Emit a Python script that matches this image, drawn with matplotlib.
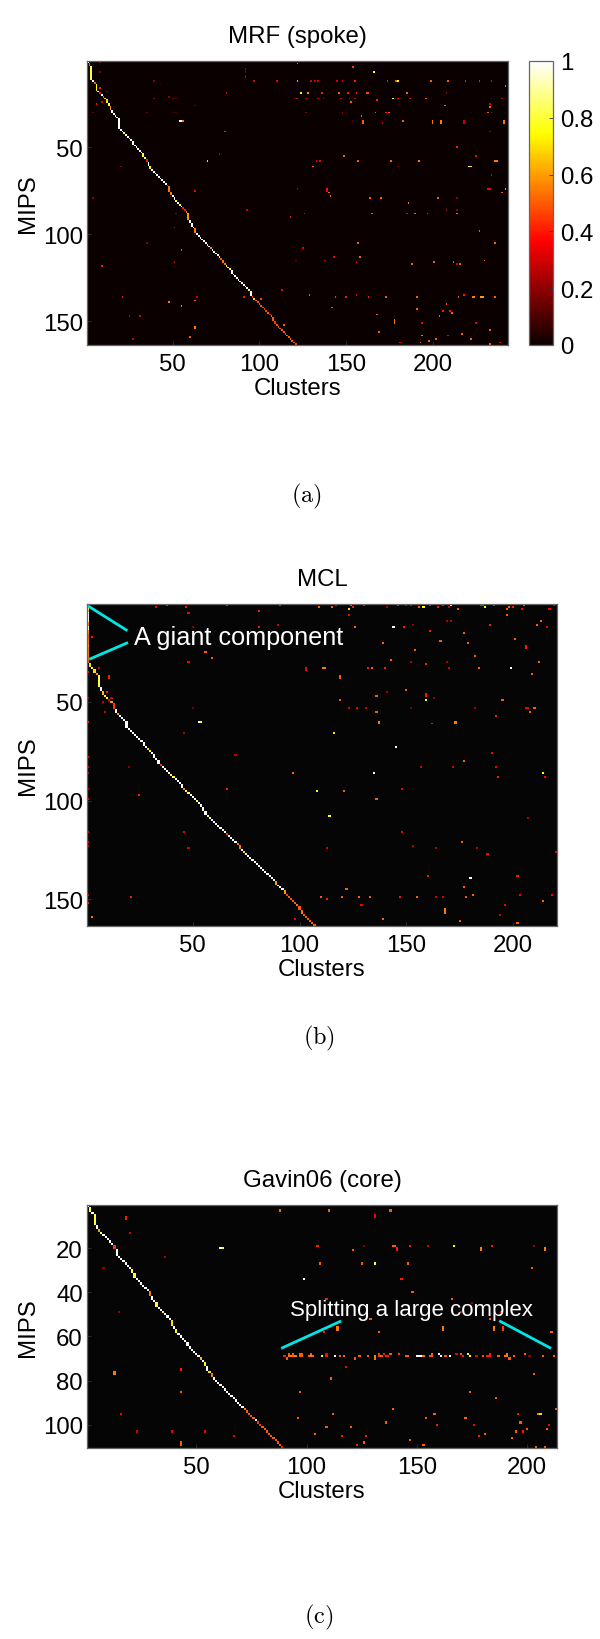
import numpy as np
import matplotlib
matplotlib.use("Agg")
import matplotlib.pyplot as plt

plt.rcParams['font.family'] = ['Liberation Sans', 'DejaVu Sans']
plt.rcParams['mathtext.fontset'] = 'cm'

# ---------- sizes of the matrices ----------
mrf_shape = (163, 243)
mcl_shape = (163, 220)
gavin_shape = (110, 213)

# ---------- diagonal: last MIPS row reached by each cluster, and its value ----------
mrf_end = [1,3,11,12,13,17,18,19,20,21,
           22,24,26,28,30,31,32,33,39,40,
           41,42,43,44,45,46,48,49,50,51,
           52,53,55,56,58,60,62,63,64,65,
           66,67,68,69,70,71,72,75,77,78,
           80,81,82,83,84,85,86,87,91,93,
           95,96,99,100,101,102,103,104,105,106,
           107,108,109,110,111,112,113,114,116,117,
           118,119,120,122,123,124,125,126,127,128,
           129,130,131,132,135,136,137,138,139,140,
           141,142,143,144,145,146,147,149,151,152,
           153,154,155,156,157,158,159,160,161,162,163]
mrf_diag = [1,.5,.8,1,.5,.75,1,.4,1,.5,
            .7,.7,.8,.6,1,1,1,1,1,1,
            1,.8,1,1,1,1,1,1,1,1,
            1,1,.8,.8,.4,1,.75,1,1,1,
            1,1,1,1,1,1,.4,.55,.55,1,
            1,.8,1,.8,1,.4,.4,.55,.6,1,
            1,.85,.55,1,1,1,1,1,1,.75,
            1,.55,1,1,1,1,1,.5,.55,.55,
            .75,.75,.8,1,1,1,1,1,1,1,
            1,1,1,.75,1,.45,.7,.5,.5,.5,
            .5,.5,.45,.45,.5,.4,.5,.5,.45,.5,
            .5,.5,.5,.5,.5,.5,.5,.5,.5,.5,.45]

mcl_end = [30,32,33,35,36,42,44,46,47,48,
           49,50,53,55,56,57,58,59,63,64,
           65,66,67,68,69,70,72,73,74,75,
           76,78,79,81,82,83,84,85,86,87,
           88,89,90,91,93,94,95,96,97,98,
           99,100,101,103,105,107,108,109,110,111,
           112,113,114,115,116,117,118,119,120,121,
           122,124,125,126,127,128,129,130,131,132,
           133,134,135,136,137,138,139,140,142,143,
           144,145,147,148,149,150,151,152,153,155,
           157,158,159,160,161,162,163]
mcl_diag = [.55,.7,.75,.7,.6,.8,1,.65,.75,.75,
            .7,.6,.45,1,.6,1,1,1,1,1,
            1,1,1,1,1,1,1,1,.7,.75,
            1,1,1,1,.45,1,1,1,1,.8,
            .8,1,1,1,1,.55,.8,.8,1,1,
            1,.8,1,1,1,1,.8,1,1,1,
            1,1,1,1,1,.45,1,1,1,1,
            .55,.55,1,.7,1,1,1,1,1,1,
            1,1,1,1,1,1,1,1,.6,1,
            1,1,.6,.45,.5,.5,.5,.5,.55,.5,
            .55,.5,.5,.5,.5,.5,.5]
mcl_giant = [.55,.8,.8,.6,1,1,1,1,1,.6,.55,1,1,.6,.6,
             .5,.5,.55,.55,.55,.55,.6,.55,.55,.55,.55,.55,.5,.5,.5]

gavin_end = [1,3,4,9,11,12,13,14,15,16,
             17,18,20,23,24,25,26,27,28,29,
             31,33,34,35,36,37,38,39,41,43,
             44,46,47,48,49,50,51,52,55,56,
             58,59,60,61,62,64,65,66,67,68,
             69,70,71,73,75,76,78,79,80,81,
             82,83,84,85,86,87,88,89,90,91,
             92,93,94,95,96,97,98,99,100,101,
             102,103,104,105,106,107,108,109,110]
gavin_diag = [1,.8,1,.8,1,.6,.8,1,1,1,
              1,1,.45,1,1,1,1,1,1,1,
              .8,.8,1,1,1,1,1,1,.55,1,
              1,.8,1,1,.8,1,1,1,.7,1,
              .75,1,1,1,1,1,1,1,1,1,
              1,.65,1,.75,1,.7,.55,1,1,1,
              1,1,1,1,1,1,1,1,1,1,
              1,.55,.5,.5,.5,.5,1,.45,.45,.5,
              .5,.5,.5,.5,.5,.5,.5,.5,.4]

# ---------- off-diagonal cells: (cluster, MIPS row, value) ----------
mrf_hits = [
 (122,2,.55),(154,4,.45),(8,1,.15),(8,7,.15),(92,5,.2),(92,7,.2),(92,9,.25),(92,10,.25),
 (39,12,.2),(43,14,.1),(97,12,.3),(110,12,.35),(122,12,.6),(130,12,.3),(132,12,.3),(134,12,.3),
 (145,12,.3),(148,12,.3),(155,12,.4),(81,19,.3),(124,19,.75),(128,19,.6),(136,19,.4),(146,19,.5),
 (151,19,.4),(156,19,.4),(39,22,.2),(48,21,.2),(50,22,.2),(52,22,.15),(121,22,.3),(122,22,.3),
 (127,22,.3),(134,22,.3),(137,22,.3),(147,22,.3),(152,22,.3),(155,22,.3),(153,24,.5),(63,26,.15),
 (35,30,.15),(50,30,.1),(52,30,.1),(127,30,.2),(148,30,.3),(54,35,1),(55,35,1),(56,35,.55),
 (154,35,.1),(6,25,.4),(8,16,.4),(12,18,.2),(9,24,.3),(4,30,.15),(80,41,.4),(77,54,.25),
 (70,58,.7),(20,61,.2),(4,79,.2),(133,58,.35),(135,58,.35),(131,61,.5),(149,55,.5),(157,58,.5),
 (122,74,.2),(139,74,.4),(139,75,.35),(140,76,.5),(141,78,.5),(63,75,.35),(93,86,.3),(52,88,.2),
 (126,88,.35),(118,90,.4),(51,96,.3),(35,105,.2),(157,105,.5),(55,109,.5),(125,108,.35),(51,116,.3),
 (9,118,.4),(121,115,.2),(138,115,.25),(143,113,.35),(156,116,.3),(113,132,.35),(21,136,.4),(64,136,.3),
 (63,138,.5),(48,139,.55),(91,136,.4),(101,137,.45),(129,135,.5),(144,136,.45),(150,136,.4),(156,135,.35),
 (55,141,.55),(142,142,.5),(25,147,.3),(31,147,.3),(63,153,.55),(63,154,.55),(114,152,.5),(60,159,.5),
 (27,160,.3),
 (166,7,.75),(174,12,.4),(179,12,.5),(180,12,.75),(199,12,.5),(209,12,.5),(219,12,.4),(227,12,.4),
 (234,12,.35),(242,15,.5),(162,19,.45),(163,19,.45),(185,19,.5),(208,19,.2),(168,23,.4),(177,22,.8),
 (180,22,.35),(182,22,.3),(187,22,.35),(196,22,.5),(240,22,.3),(234,22,.2),(207,26,.5),(233,25,.3),
 (233,27,.5),(167,30,.5),(173,30,.4),(175,30,.5),(232,30,.5),(234,30,.3),(159,32,.5),(160,35,.5),
 (160,36,.5),(171,36,.3),(183,35,.5),(200,35,.55),(200,36,.55),(205,35,.55),(205,36,.55),(218,35,.3),
 (218,36,.3),(241,35,.55),(241,36,.55),(233,41,.2),(214,50,.4),(225,55,.35),(176,58,.5),(192,58,.55),
 (236,58,.55),(237,58,.55),(180,61,.2),(221,61,.85),(222,61,.7),(234,66,.3),(232,74,.35),(233,74,.35),
 (242,74,.55),(240,76,.5),(164,79,.5),(170,79,.5),(203,79,.5),(214,79,.2),(186,82,.55),(208,86,.25),
 (214,86,.2),(165,88,.5),(185,88,.35),(190,88,.5),(197,88,.4),(214,88,.55),(227,98,.5),(236,105,.5),
 (158,113,.5),(188,117,.5),(201,116,.5),(212,116,.5),(214,117,.3),(216,117,.5),(230,115,.5),(163,136,.4),
 (173,136,.5),(191,136,.5),(215,136,.5),(218,135,.4),(223,136,.55),(224,136,.55),(228,136,.6),(229,136,.6),
 (236,136,.5),(191,143,.5),(168,146,.5),(208,140,.5),(206,144,.4),(210,144,.4),(211,145,.5),(204,147,.5),
 (178,149,.55),(178,150,.55),(178,151,.55),(194,151,.35),(225,151,.35),(233,155,.5),(169,156,.5),(217,157,.5),
 (194,158,.55),(209,158,.35),(202,160,.5),(198,161,.5),(222,160,.5),(181,162,.35),(193,162,.5),(239,162,.35),
 (233,163,.5),
]

mcl_hits = [
 (33,2,.35),(38,1,.4),(47,2,.4),(48,5,.35),(66,1,.4),(81,4,.4),(91,1,.4),(109,2,.5),(115,2,.5),(117,1,.35),
 (124,1,.5),(125,2,.4),(123,3,.7),(123,6,.35),(81,12,.4),(90,11,.3),(50,12,.2),(126,12,.5),(3,17,.4),(118,17,.35),
 (56,25,.5),(59,28,.5),(48,30,.35),(6,33,.3),(103,33,.35),(103,34,.35),(111,33,.55),(112,33,.55),(11,37,.4),(11,38,.4),
 (119,37,.5),(119,38,.5),(10,45,.4),(11,49,.35),(12,48,.3),(8,50,.3),(119,49,.5),(9,55,.3),(50,53,.15),(123,53,.3),
 (127,53,.35),(1,48,.25),(1,60,.4),(1,78,.3),(1,83,.25),(1,86,.25),(1,94,.2),(1,99,.35),(1,116,.3),(1,121,.3),
 (1,123,.3),(1,148,.3),(1,152,.4),(1,35,.35),(53,60,1),(54,60,.75),(46,66,.25),(116,66,.7),(70,77,.25),(20,83,.2),
 (97,86,.5),(66,94,.4),(108,95,.75),(121,95,.5),(25,97,.4),(114,108,.75),(46,116,.35),(48,124,.3),(113,124,.3),(21,149,.4),
 (3,159,.55),(98,160,.35),(110,149,.5),(113,150,.4),(120,149,.5),(122,145,.5),(128,149,.5),
 (130,1,.4),(146,1,.4),(150,1,.3),(152,1,.3),(161,1,.4),(167,1,.4),(171,1,.8),(185,1,.4),(186,1,.4),(191,1,.4),
 (205,1,.5),(219,1,.3),(141,2,.25),(156,2,.5),(158,2,.75),(165,2,.4),(170,2,.3),(187,2,.75),(198,2,.5),(200,2,.4),
 (174,3,.5),(197,3,.5),(204,3,.35),(217,3,.35),(197,6,.5),(169,9,.25),(171,9,.25),(213,9,.5),(144,12,1),(149,12,.4),
 (153,11,.2),(189,11,.4),(211,11,.5),(216,12,.35),(161,14,.4),(177,15,.5),(201,18,.5),(139,20,.5),(166,19,.5),(179,20,.5),
 (206,22,.4),(206,23,.4),(154,24,.5),(182,27,.5),(143,29,.5),(152,30,.25),(169,30,.25),(212,30,.5),(159,31,.4),(132,33,.4),
 (134,33,.5),(140,33,.4),(170,33,.3),(184,33,.5),(199,33,1),(209,36,.5),(150,44,.5),(141,45,.25),(136,47,.5),(159,46,.4),
 (159,47,.4),(163,48,.2),(159,49,.75),(195,49,.5),(131,53,.3),(152,53,.15),(182,53,.25),(206,53,.35),(207,53,.35),(210,53,.5),
 (136,55,.5),(208,55,.5),(192,57,.4),(137,60,.55),(137,61,.55),(173,60,.55),(173,61,.55),(162,61,.4),(145,73,1),(190,76,.35),
 (177,80,.5),(157,83,.3),(172,83,.3),(192,83,.35),(135,86,1),(214,86,.75),(215,88,.35),(193,88,.4),(148,94,.35),(136,99,.5),
 (207,109,.25),(148,116,.35),(176,121,.5),(153,123,.25),(164,124,.25),(183,124,.25),(188,127,.35),(220,126,.35),(160,138,.4),(180,139,1),
 (202,138,.4),(177,144,.5),(133,149,.5),(147,149,.4),(155,149,.5),(164,149,.3),(167,149,.3),(178,149,.5),(181,148,.5),(203,148,.35),
 (218,148,.35),(214,151,.5),(129,153,.35),(168,155,.55),(168,156,.55),(168,157,.55),(196,153,.35),(194,158,.3),(139,160,.5),(175,161,.5),
 (202,162,.5),
]

gavin_hits = [
 (88,3,.5),(110,3,.5),(18,6,.4),(18,7,.4),(20,13,.3),(105,19,.4),(121,21,.5),(61,20,1),(62,20,.75),(36,24,.25),
 (8,29,.2),(106,27,.5),(99,34,1),(109,43,.4),(15,49,.2),(108,58,.4),(114,56,.55),(114,57,.55),
 (90,69,.4),(92,69,.55),(93,69,.55),(94,69,.5),(95,69,.55),(97,69,.5),(98,69,.5),(101,69,.5),(102,69,.55),(103,69,.5),
 (107,69,.75),(109,69,.4),(113,69,1),(115,69,.5),(117,69,.5),(124,69,.5),(91,70,.5),(122,70,.5),(92,68,.5),(94,68,.5),
 (97,68,.5),(98,68,.5),(102,68,.5),(109,68,.35),(118,74,.35),(43,75,.4),(13,76,.55),(13,77,.55),(111,79,.5),(43,85,.5),
 (97,85,.5),(16,95,.35),(112,95,.5),(96,97,.5),(109,101,.5),(120,101,.5),(23,103,.3),(39,103,.35),(54,103,.35),(104,104,.5),
 (116,105,.4),(67,105,.35),(43,108,.5),(43,109,.5),(123,109,.4),
 (138,3,.5),(131,5,.35),(131,6,.35),(126,19,.2),(139,19,.5),(140,19,.5),(147,19,.4),(155,19,.3),(167,19,.75),(184,19,.4),
 (203,19,.2),(141,20,.4),(141,21,.4),(179,20,.55),(179,21,.55),(208,20,.55),(208,21,.55),(125,27,.5),(131,27,.8),(146,27,.5),
 (202,29,.5),(143,34,.4),(148,40,.5),(166,43,.5),(175,45,.2),(170,49,.35),(188,49,.4),(129,52,.5),(183,52,.5),(162,56,.55),
 (162,57,.55),(185,56,.55),(185,57,.55),(189,56,.45),(189,57,.45),(133,58,.5),(211,58,.5),
 (128,69,.5),(131,69,.55),(133,69,.45),(134,69,.5),(136,69,.4),(137,69,.4),(145,69,.5),(146,69,.5),(150,69,1),(151,69,1),
 (152,69,1),(153,69,.55),(156,69,.5),(157,69,.5),(161,69,1),(163,69,.5),(165,69,1),(171,69,.4),(174,69,.75),(177,69,.35),
 (180,69,.5),(182,69,.4),(183,69,.4),(187,69,.5),(190,69,.55),(191,69,.55),(194,69,.5),(201,69,.2),(207,69,.5),(212,69,.5),
 (133,68,.45),(135,68,.4),(138,68,.5),(142,68,.45),(157,68,.5),(160,68,1),(168,68,.35),(170,68,.5),(173,68,.75),(183,68,.4),
 (191,68,.55),(199,68,.5),(131,70,.55),(192,70,.5),(203,77,.5),(174,85,.5),(186,88,.5),(139,93,.5),(154,97,.5),(158,95,.5),
 (172,97,.5),(196,95,.4),(205,95,.55),(206,95,.7),(197,99,.5),(213,93,.5),(136,99,.5),(159,100,.4),(176,100,.35),(200,102,.5),
 (210,100,.35),(209,102,.5),(195,103,.5),(198,103,.4),(127,105,.4),(178,105,.4),(181,104,.5),(193,106,.5),(147,107,.5),(126,108,.5),
 (153,109,.5),(204,110,.5),(208,110,.5),
]

# ---------- tick labels and text ----------
x_ticks = [50, 100, 150, 200]
mrf_y_ticks = [50, 100, 150]
mcl_y_ticks = [50, 100, 150]
gavin_y_ticks = [20, 40, 60, 80, 100]
cbar_ticks = [0, 0.2, 0.4, 0.6, 0.8, 1]
cbar_labels = ['0', '0.2', '0.4', '0.6', '0.8', '1']

W, H = 600, 1640
CYAN = '#00e6e6'
SPINE = '#666666'
FS = 17.3


def build(shape, ends, diag, hits, background):
    grid = np.full(shape, background, dtype=float)
    prev = 0
    for col, (end, val) in enumerate(zip(ends, diag)):
        grid[prev:end, col] = val
        prev = end
    for c, r, v in hits:
        grid[r - 1, c - 1] = v
    return grid


def axes_px(x0, y0, x1, y1):
    return fig.add_axes([x0 / W, 1 - y1 / H, (x1 - x0) / W, (y1 - y0) / H])


def panel(box, grid, yticks, title, cmap):
    ax = axes_px(*box)
    nr, nc = grid.shape
    im = ax.imshow(grid, cmap=cmap, vmin=0, vmax=1, aspect='auto',
                   interpolation='nearest', extent=(0.5, nc + 0.5, nr + 0.5, 0.5))
    ax.set_xticks(x_ticks)
    ax.set_yticks(yticks)
    ax.tick_params(direction='in', length=3, width=0.6, color='#333333',
                   labelsize=FS, pad=3, top=False, right=False)
    ax.tick_params(axis='x', pad=6)
    for s in ax.spines.values():
        s.set_color(SPINE)
        s.set_linewidth(0.9)
    ax.set_xlabel('Clusters', fontsize=FS, labelpad=1)
    ax.set_ylabel('MIPS', fontsize=FS, labelpad=3)
    ax.set_title(title, fontsize=FS, pad=14)
    return ax, im


fig = plt.figure(figsize=(W / 100, H / 100), dpi=100)

hot = plt.get_cmap('hot').copy()
dark = plt.get_cmap('hot').copy()
dark.set_under('#050505')

# (a)
grid_a = build(mrf_shape, mrf_end, mrf_diag, mrf_hits, 0.0)
ax_a, im_a = panel((87, 62, 508, 346), grid_a, mrf_y_ticks, 'MRF (spoke)', hot)
cax = axes_px(529, 62, 553, 346)
cb = fig.colorbar(im_a, cax=cax)
cb.set_ticks(cbar_ticks, labels=cbar_labels)
cb.ax.tick_params(direction='in', length=3, width=0.6, color='#333333', labelsize=FS, pad=5)
cb.outline.set_edgecolor(SPINE)
cb.outline.set_linewidth(0.9)
fig.text(306 / W, 1 - 496 / H, r'$\mathrm{(a)}$', ha='center', va='center', fontsize=17.5)

# (b)
grid_b = build(mcl_shape, mcl_end, mcl_diag, mcl_hits, -1.0)
grid_b[:len(mcl_giant), 0] = mcl_giant
ax_b, _ = panel((87, 605, 557, 927), grid_b, mcl_y_ticks, 'MCL', dark)
ax_b.plot([1, 19.4], [1.5, 14], color=CYAN, lw=2, solid_capstyle='butt')
ax_b.plot([1.5, 19.7], [28.5, 20], color=CYAN, lw=2, solid_capstyle='butt')
ax_b.text(22.3, 17, 'A giant component', color='white', fontsize=18.2, va='center', ha='left')
fig.text(319 / W, 1 - 1038 / H, r'$\mathrm{(b)}$', ha='center', va='center', fontsize=17.5)

# (c)
grid_c = build(gavin_shape, gavin_end, gavin_diag, gavin_hits, -1.0)
ax_c, _ = panel((87, 1206, 557, 1449), grid_c, gavin_y_ticks, 'Gavin06 (core)', dark)
ax_c.plot([88.5, 115.7], [65.4, 53], color=CYAN, lw=2, solid_capstyle='butt')
ax_c.plot([187.3, 210.8], [52.9, 65.4], color=CYAN, lw=2, solid_capstyle='butt')
ax_c.text(92.6, 47.6, 'Splitting a large complex', color='white', fontsize=16, va='center', ha='left')
fig.text(319 / W, 1 - 1617 / H, r'$\mathrm{(c)}$', ha='center', va='center', fontsize=17.5)

fig.savefig('out.png', dpi=100)
